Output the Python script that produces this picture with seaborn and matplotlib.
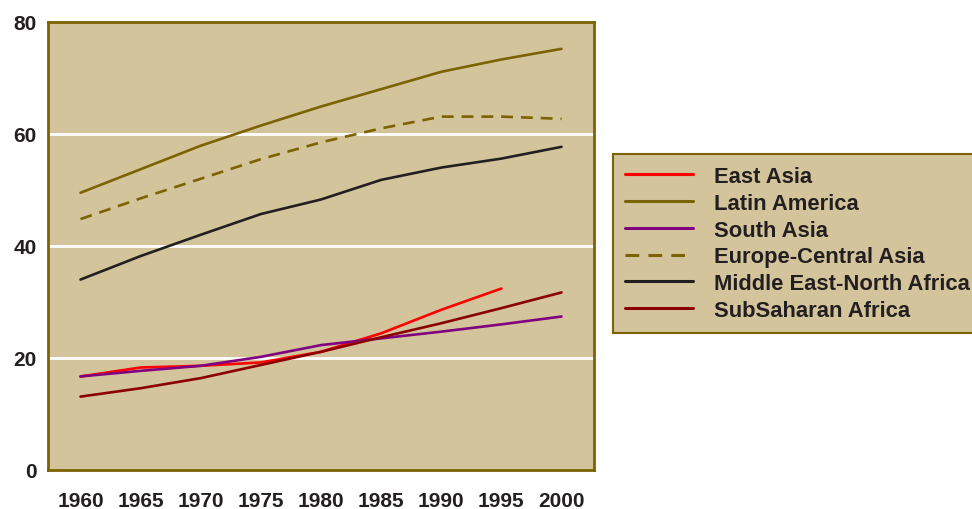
import numpy as np
import pandas as pd
import matplotlib
matplotlib.use("Agg")
import matplotlib.pyplot as plt
import seaborn as sns

years = [1960, 1965, 1970, 1975, 1980, 1985, 1990, 1995, 2000]
east_asia = [16.7, 18.3, 18.6, 19.2, 21.1, 24.4, 28.6, 32.4, np.nan]
latin_america = [49.5, 53.7, 57.9, 61.5, 64.9, 68.0, 71.1, 73.3, 75.2]
south_asia = [16.7, 17.7, 18.6, 20.2, 22.3, 23.5, 24.7, 26.0, 27.4]
europe_central_asia = [44.8, 48.5, 52.0, 55.5, 58.5, 61.0, 63.1, 63.1, 62.7]
mena = [34.0, 38.2, 42.0, 45.7, 48.3, 51.8, 54.0, 55.6, 57.7]
subsaharan = [13.1, 14.6, 16.4, 18.75, 21.1, 23.7, 26.2, 28.9, 31.7]

regions = ["East Asia", "Latin America", "South Asia", "Europe-Central Asia",
           "Middle East-North Africa", "SubSaharan Africa"]
series = [east_asia, latin_america, south_asia, europe_central_asia, mena, subsaharan]
colors = ["#FF0000", "#7A6300", "#800080", "#7A6300", "#231F20", "#8B0000"]

bg = "#D4C49C"
frame = "#7A6300"
text_col = "#231F20"

df = pd.concat([pd.DataFrame({"year": years, "value": vals, "region": name})
                for name, vals in zip(regions, series)], ignore_index=True)
df = df.dropna()

sns.set_style("white")
plt.rcParams['font.family'] = ['Liberation Sans', 'DejaVu Sans']

fig = plt.figure(figsize=(9.72, 5.10), dpi=100)
ax = fig.add_axes([0.0494, 0.0765, 0.5617, 0.8785])
ax.set_facecolor(bg)

palette = dict(zip(regions, colors))
dashes = {r: "" for r in regions}
dashes["Europe-Central Asia"] = (4.5, 3)

sns.lineplot(data=df, x="year", y="value", hue="region", style="region",
             hue_order=regions, style_order=regions, palette=palette,
             dashes=dashes, linewidth=1.9, ax=ax)

handles, labels = ax.get_legend_handles_labels()
ax.get_legend().remove()

ax.set_xlim(1957.3, 2002.7)
ax.set_ylim(0, 80)
ax.set_xticks(years)
ax.set_yticks([0, 20, 40, 60, 80])
ax.set_xlabel("")
ax.set_ylabel("")
for y in [20, 40, 60]:
    ax.axhline(y, color="white", linewidth=2, zorder=0.5)
ax.tick_params(length=0, labelsize=15, colors=text_col)
ax.tick_params(axis="x", pad=15)
ax.tick_params(axis="y", pad=8)
for lab in ax.get_xticklabels() + ax.get_yticklabels():
    lab.set_fontweight("bold")
for sp in ax.spines.values():
    sp.set_visible(True)
    sp.set_color(frame)
    sp.set_linewidth(2)

leg = fig.legend(handles, labels, loc="upper left", bbox_to_anchor=(0.631, 0.696),
                 borderaxespad=0, frameon=True, fancybox=False, facecolor=bg,
                 edgecolor=frame, framealpha=1, handlelength=3.06,
                 handletextpad=0.96, labelspacing=0.26, borderpad=0.55,
                 prop={"size": 15.8, "weight": "bold"})
leg.get_frame().set_linewidth(1.5)
for t in leg.get_texts():
    t.set_color(text_col)
for h in leg.get_lines():
    h.set_linewidth(2.2)

fig.savefig("out.png", dpi=100)
